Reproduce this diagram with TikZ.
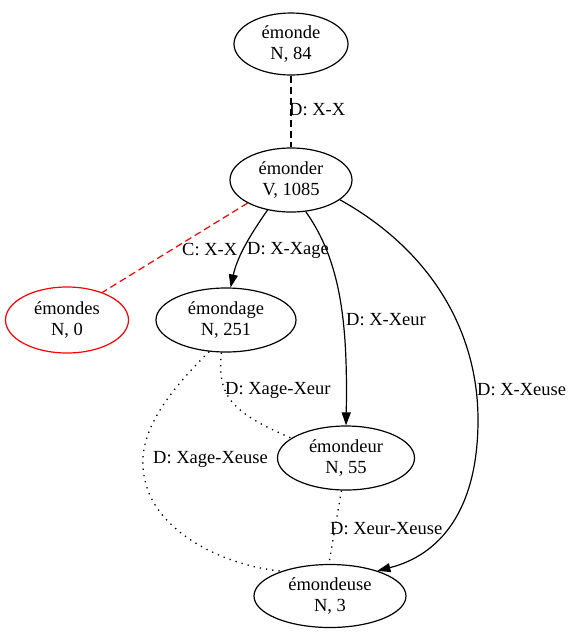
\documentclass[tikz,border=0pt]{standalone}
\usepackage{fontspec}
\setmainfont{Liberation Serif}
\usepackage{tikz}
\usetikzlibrary{arrows.meta}
\usetikzlibrary{shapes.geometric}
\usetikzlibrary{calc}

\tikzset{
  lemma/.style={draw, ellipse, line width=1.2pt, inner sep=0pt, minimum height=64pt, align=center,
    font=\fontsize{18.5}{21}\selectfont},
  rel/.style={anchor=west, inner sep=0pt, font=\fontsize{18.5}{21}\selectfont},
  derive/.style={line width=1.2pt, -{Triangle[length=13pt,width=9pt]}},
  dash5/.style={line width=1.2pt, dash pattern=on 7pt off 4pt},
  dot5/.style={line width=1.3pt, dash pattern=on 1.3pt off 5pt}
}

\begin{document}
\begin{tikzpicture}[x=1pt,y=-1pt]
\useasboundingbox (0,0) rectangle (570,641);

\node[lemma, minimum width=114pt, minimum height=62pt] (emonde) at (291,44) {émonde\\N, 84};
\node[lemma, minimum width=122pt] (emonder) at (291,180) {émonder\\V, 1085};
\node[lemma, minimum width=123pt, minimum height=66pt, red] (emondes) at (67,320) {\textcolor{black}{émondes}\\\textcolor{black}{N, 0}};
\node[lemma, minimum width=140pt] (emondage) at (226,320) {émondage\\N, 251};
\node[lemma, minimum width=137pt] (emondeur) at (346,458) {émondeur\\N, 55};
\node[lemma, minimum width=152pt, minimum height=63pt] (emondeuse) at (330,596) {émondeuse\\N, 3};

% edges
\draw[dash5] (emonde) -- (emonder);
\draw[dash5, red] (emonder.208) -- (emondes.38);
\draw[derive] (emonder.232) .. controls (248,238) and (237,258) .. (emondage.82);
\draw[derive] (emonder.295) .. controls (340,260) and (348,320) .. (emondeur.90);
\draw[derive] (emonder.338) .. controls (430,250) and (478,330) .. (478,420)
  .. controls (478,510) and (440,555) .. (emondeuse.28);
\draw[dot5] (emondage.262) .. controls (217,395) and (230,412) .. (emondeur.160);
\draw[dot5] (emondage.242) .. controls (160,400) and (135,440) .. (145,480)
  .. controls (155,530) and (220,565) .. (emondeuse.153);
\draw[dot5] (emondeur.262) -- (emondeuse.92);

% labels
\node[rel] (l1) at (289,110) {D: X-X};
\node[rel] (l2) at (182,250) {C: X-X};
\node[rel] (l3) at (247,250) {D: X-Xage};
\node[rel] (l4) at (346,320) {D: X-Xeur};
\node[rel] (l5) at (477,390) {D: X-Xeuse};
\node[rel] (l6) at (225,390) {D: Xage-Xeur};
\node[rel] (l7) at (153,459) {D: Xage-Xeuse};
\node[rel] (l8) at (330,529) {D: Xeur-Xeuse};
\end{tikzpicture}
\end{document}
